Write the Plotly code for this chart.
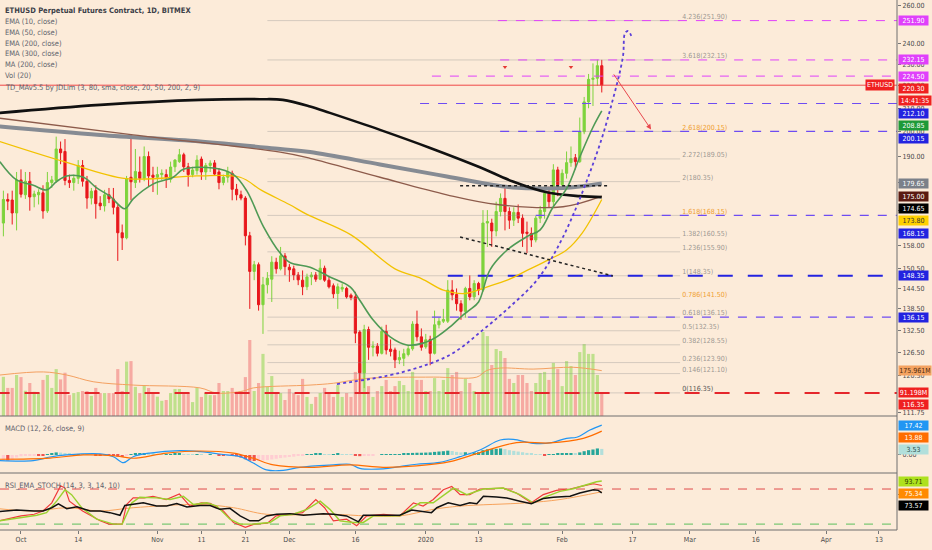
import numpy as np
import pandas as pd
import plotly.graph_objects as go

# ---------------- data ----------------
dates = pd.date_range("2019-09-27", "2020-02-10", freq="D")

opens = [165.5, 173.8, 173.6, 169.0, 181.0, 175.5, 180.5, 174.8, 175.5, 176.2,
         169.7, 180.0, 180.8, 193.0, 192.0, 180.8, 180.0, 181.6, 186.5, 180.5,
         174.3, 177.0, 172.5, 171.5, 175.5, 174.0, 171.0, 162.2, 160.5, 182.0,
         180.0, 184.0, 181.6, 190.0, 182.8, 182.0, 183.0, 183.0, 181.2, 186.0,
         188.0, 190.7, 186.0, 183.0, 184.5, 189.0, 184.0, 186.5, 187.5, 184.0,
         180.0, 182.0, 183.5, 177.5, 175.5, 174.3, 161.2, 149.7, 151.8, 139.7,
         145.6, 147.3, 152.6, 150.5, 154.6, 151.0, 150.5, 148.6, 147.0, 145.0,
         148.0, 148.6, 147.3, 150.7, 147.0, 145.3, 143.0, 144.3, 144.5, 142.5,
         142.0, 132.0, 121.3, 132.7, 127.9, 128.2, 126.3, 132.2, 127.4, 127.2,
         124.6, 125.0, 126.0, 127.5, 134.2, 130.7, 128.0, 130.0, 126.3, 134.0,
         135.0, 135.0, 144.0, 142.7, 140.0, 137.8, 144.5, 142.0, 146.0, 144.0,
         165.5, 165.5, 162.8, 169.5, 174.2, 169.5, 166.5, 169.2, 167.2, 162.4,
         162.0, 159.8, 167.2, 169.5, 176.0, 173.0, 184.8, 179.2, 183.5, 187.6,
         189.5, 188.0, 200.0, 212.8, 223.0, 223.5, 229.4]
highs = [177.0, 176.0, 177.0, 184.0, 185.0, 184.0, 184.0, 177.0, 177.5, 179.0,
         184.0, 182.5, 198.0, 196.0, 197.0, 183.0, 183.0, 188.6, 188.6, 182.5,
         178.0, 179.0, 175.0, 177.3, 178.0, 178.0, 172.0, 165.0, 182.5, 199.0,
         193.0, 190.0, 194.0, 192.0, 186.0, 186.0, 185.0, 185.0, 188.0, 189.0,
         193.0, 191.5, 187.5, 186.0, 190.5, 190.0, 187.5, 188.5, 188.6, 185.5,
         183.0, 186.0, 184.5, 179.5, 177.0, 175.0, 162.5, 153.0, 152.5, 148.0,
         149.5, 154.5, 154.0, 157.5, 155.5, 152.0, 151.5, 149.5, 150.0, 149.0,
         149.5, 149.5, 153.5, 151.5, 148.0, 146.0, 146.0, 146.0, 145.0, 143.0,
         143.5, 132.5, 134.0, 133.5, 129.5, 129.0, 133.5, 134.0, 130.0, 127.8,
         127.0, 127.5, 128.5, 135.0, 138.0, 133.0, 131.5, 131.0, 138.0, 136.0,
         138.5, 147.0, 147.0, 144.5, 141.0, 145.0, 148.5, 147.0, 146.5, 170.0,
         170.0, 167.0, 173.0, 176.0, 178.5, 171.0, 171.0, 172.0, 168.5, 166.0,
         164.0, 168.0, 171.5, 177.0, 178.5, 187.0, 186.0, 185.0, 192.0, 194.0,
         191.0, 206.0, 215.0, 225.5, 230.5, 232.3, 232.2]
lows = [161.0, 170.0, 165.0, 163.0, 174.5, 174.0, 169.8, 171.0, 172.0, 167.0,
        169.0, 178.0, 180.0, 187.0, 179.0, 178.0, 177.0, 179.5, 178.5, 170.5,
        172.0, 167.0, 170.0, 169.5, 172.5, 168.5, 153.0, 156.5, 160.0, 173.5,
        178.0, 180.0, 180.5, 178.5, 176.5, 175.5, 181.0, 178.0, 180.0, 184.0,
        187.5, 184.0, 178.5, 182.0, 183.0, 181.0, 181.0, 184.0, 182.5, 177.5,
        179.0, 180.0, 173.5, 173.5, 173.5, 158.0, 138.5, 147.0, 138.0, 131.5,
        143.0, 140.5, 149.0, 150.0, 148.5, 146.5, 147.0, 145.5, 142.5, 144.0,
        145.5, 146.5, 147.0, 146.5, 144.5, 141.6, 138.5, 143.5, 141.5, 141.0,
        129.0, 116.35, 117.5, 124.6, 125.5, 125.5, 126.0, 126.0, 125.5, 122.5,
        123.5, 123.0, 125.5, 127.0, 129.5, 127.0, 127.5, 123.2, 126.0, 133.0,
        134.5, 134.5, 141.0, 138.0, 135.4, 136.0, 141.0, 141.0, 142.5, 143.5,
        157.5, 157.5, 161.0, 167.8, 163.0, 163.5, 164.5, 165.5, 157.5, 155.5,
        157.5, 159.0, 165.5, 167.0, 171.0, 171.5, 175.0, 178.5, 181.5, 186.0,
        185.0, 187.5, 199.0, 210.0, 211.0, 220.0, 217.0]
closes = [173.8, 173.2, 169.0, 181.0, 175.7, 180.5, 174.7, 175.8, 176.4, 169.7,
          180.0, 181.0, 193.0, 191.5, 180.8, 180.0, 181.6, 186.5, 180.5, 174.3,
          176.8, 172.3, 171.5, 175.5, 174.0, 171.0, 162.2, 160.5, 181.5, 180.3,
          184.2, 181.6, 190.0, 182.5, 182.0, 183.0, 183.5, 181.8, 185.9, 188.6,
          190.7, 186.0, 183.0, 184.8, 188.6, 184.0, 186.5, 187.4, 183.2, 180.0,
          182.0, 184.0, 177.5, 175.5, 174.3, 161.2, 149.7, 151.8, 139.7, 145.6,
          147.6, 152.6, 150.5, 154.6, 151.2, 150.2, 148.6, 147.1, 145.0, 148.0,
          148.6, 147.3, 150.7, 147.0, 145.0, 142.9, 145.0, 144.8, 142.0, 141.8,
          131.7, 121.3, 132.7, 127.9, 128.2, 126.3, 132.2, 127.2, 126.8, 124.6,
          125.2, 126.2, 127.5, 134.2, 130.7, 127.9, 129.9, 126.3, 134.0, 135.0,
          135.5, 144.0, 142.6, 140.0, 137.8, 144.5, 142.0, 146.0, 144.0, 165.5,
          166.0, 162.8, 169.5, 174.2, 169.5, 166.5, 169.2, 167.2, 162.0, 162.0,
          159.8, 167.2, 170.0, 176.0, 173.0, 184.8, 179.2, 183.5, 187.6, 189.2,
          188.0, 200.0, 212.8, 223.0, 223.5, 229.4, 220.3]
volume_m = [152, 109, 109, 159, 151, 98, 128, 94, 89, 140,
            159, 109, 182, 142, 168, 81, 89, 93, 97, 97,
            78, 109, 89, 89, 89, 89, 182, 97, 211, 213,
            113, 89, 120, 109, 89, 75, 59, 62, 89, 105,
            105, 89, 89, 54, 109, 74, 89, 81, 81, 128,
            97, 97, 109, 89, 97, 151, 295, 97, 128, 241,
            113, 155, 89, 89, 62, 105, 89, 81, 144, 74,
            47, 74, 89, 109, 89, 74, 120, 74, 89, 74,
            171, 202, 213, 116, 74, 97, 116, 140, 97, 116,
            136, 120, 97, 171, 140, 140, 97, 97, 147, 97,
            140, 186, 159, 171, 97, 144, 128, 97, 85, 326,
            310, 198, 260, 252, 225, 144, 128, 159, 159, 128,
            97, 128, 167, 171, 140, 206, 182, 116, 213, 194,
            159, 248, 279, 241, 241, 159, 91.198]
macd_hist = [-3.0, -3.2, -2.8, -1.5, -0.8, -0.5, -0.3, -0.2, -0.5, -0.6,
             0.2, 0.8, 1.5, 1.4, 1.0, 0.6, 0.4, 0.4, 0.3, 0.2,
             0.0, -0.2, -0.3, -0.3, -0.4, -0.6, -1.0, -1.2, -0.6, 0.2,
             0.6, 0.8, 1.0, 0.9, 0.6, 0.4, 0.2, 0.2, 0.4, 0.6,
             0.7, 0.5, 0.3, 0.2, 0.3, 0.1, 0.0, 0.1, 0.0, -0.3,
             -0.4, -0.3, -0.5, -0.8, -1.5, -2.5, -3.3, -3.5, -3.5, -3.2,
             -3.0, -2.6, -2.2, -1.8, -1.5, -1.2, -1.0, -0.6, -0.3, 0.3,
             0.5, 0.6, 0.6, 0.4, 0.3, 0.4, 0.6, 0.5, 0.3, 0.1,
             -0.3, -0.7, -0.6, -0.4, -0.2, 0.0, 0.1, 0.1, 0.2, 0.4,
             0.5, 0.7, 0.9, 1.2, 1.3, 1.3, 1.4, 1.5, 1.8, 2.0,
             2.2, 2.5, 2.3, 1.8, 1.5, 1.6, 1.4, 1.5, 1.6, 2.8,
             3.3, 3.4, 3.6, 3.8, 3.4, 2.8, 2.4, 2.0, 1.6, 1.2,
             0.8, 0.4, 0.2, -0.2, 0.2, 0.5, 0.6, 0.7, 0.8, 1.0,
             0.9, 1.5, 2.2, 2.8, 3.2, 3.8, 3.53]

# overlay lines as (day offset from 2019-10-01, value)
ema10_days = [-4.8, -1, 2.8, 5.8, 8.1, 10.4, 14.2, 17.2, 20.2, 23.6, 25.5, 30.1, 34.6, 36.9,
              43.7, 48.3, 51.3, 55.1, 58.9, 61.1, 65.7, 70.2, 74.8, 77, 80, 83.9, 87.7,
              91.4, 94.5, 97.5, 100.5, 102, 104, 106.6, 110.5, 115, 118, 120.9, 124.1,
              127, 130, 132]
ema10_vals = [188, 181, 179, 177.3, 180.4, 182.5, 182, 178, 175, 170.5, 174, 179.5, 182, 185,
              185.5, 183, 177, 164.3, 155.5, 152.5, 151, 148, 145, 141, 135.4, 130.7, 128.5,
              129, 130.7, 133.4, 136.8, 138.2, 140.5, 150.2, 156.5, 160.9, 163.2, 171, 178,
              189.8, 201.9, 208.85]
ema50_days = [-4.8, 9.8, 23.9, 40, 49.8, 54.8, 61, 65, 75, 85, 91, 96, 101, 106, 110.5,
              115, 120, 124, 127.5, 132]
ema50_vals = [196, 188, 181.5, 182.5, 182, 177, 172, 168.5, 161.5, 150.5, 147.5, 144, 143,
              145, 147, 150, 153.4, 156.5, 162, 173.8]
ema200_days = [-4.8, 18, 40.7, 54.3, 59.5, 65.7, 70.2, 81.6, 93, 104.3, 111.8, 119.5, 127, 132]
ema200_vals = [208, 211.5, 213.7, 214, 213.7, 210.8, 208, 200.8, 193.4, 185.8, 180.4, 176.4,
               175, 174.65]
ema300_days = [-4.8, 18, 40.7, 58.9, 65.7, 81.6, 96.8, 111.8, 123.2, 132]
ema300_vals = [202.2, 198.7, 196, 193, 191.8, 186.9, 182.3, 178.2, 178, 179.65]
ma200_days = [-4.8, 25.5, 58.9, 65.7, 81.6, 96.8, 108.2, 123.2, 132]
ma200_vals = [205.7, 198.7, 191.7, 189.3, 182, 175.5, 172, 171.2, 175.0]
volma_days = [-4.8, 5.1, 10.4, 16.4, 25.5, 40.7, 44.5, 50.5, 52.8, 65.7, 71, 78.6, 93.7,
              103.6, 105.8, 108.9, 116.4, 125.5, 132]
volma_vals = [159, 171, 159, 133, 120, 109, 89, 97, 109, 120, 127, 146, 151, 151, 176, 186,
              182, 189, 175.961]

macd_days = [-4.8, 2.8, 6.6, 10.4, 18, 21, 23.3, 25.5, 29.3, 36.1, 40.7, 46.7, 49.8, 52.8,
             55.8, 59.6, 63.4, 71, 74.8, 77, 82.3, 86.1, 89.9, 95.2, 99.8, 104.3, 108.9,
             111.9, 116.4, 120.2, 124, 126.3, 129.3, 132]
macd_vals = [-3.3, -3.3, -1.2, 0, 0.6, -1, -4.5, -1, 1.1, 2.5, 1.9, 0, -1, -4.7,
             -8.7, -9, -7.2, -5.8, -5.4, -7.8, -8.1, -6.8, -5.4, -4.3, -1, 2.9, 8.7,
             9.1, 6.8, 7, 9.7, 10.3, 14.5, 17.42]
signal_days = [-4.8, 6.6, 14.2, 21.7, 25.5, 33.1, 40.7, 48.3, 52.8, 57.4, 65.7, 74.8, 82.3,
               89.9, 97.5, 104.3, 112.6, 120.2, 127.8, 132]
signal_vals = [-2.5, -1.8, 0, -0.6, -1.9, 1.1, 2.3, 1.1, -1.9, -5.8, -7.2, -5.8, -7.2,
               -6.4, -3.9, 1.4, 7.2, 7, 9.7, 13.88]

k_days = [-5, 0, 3, 5, 7, 9, 10, 11, 14, 18, 20, 23, 24, 25.5, 28, 30, 33, 36, 38.4, 41, 43,
          46, 48.3, 51, 53, 56, 58, 61, 64, 67, 69, 71, 74, 76.3, 78.6, 82.4, 86.1, 89.2,
          91.4, 93.7, 96, 97.9, 99.8, 102, 104.3, 109.6, 112.6, 116, 118.7, 121.7, 124.8,
          127.8, 130.1, 132]
k_vals = [25.6, 34, 36.8, 42.4, 56.4, 85.5, 81.6, 59.2, 42.4, 25.6, 20, 20, 53.6, 64.8, 64.8,
          67.6, 62, 71.5, 50.8, 56.4, 55.3, 42.4, 22.8, 14.4, 20, 21.7, 34, 36.8, 39.6, 62,
          48, 25.6, 28.4, 17.2, 34, 36.8, 34, 56.4, 50.8, 62, 78.8, 84.4, 70.4, 70.4, 80,
          81.6, 73.2, 56.4, 70.4, 77.7, 80, 85.5, 89, 86]
d_days = [-5, 0, 3.6, 5.8, 8.1, 10, 11.5, 13.8, 17.2, 21, 23, 25.2, 27, 30.8, 33.9, 36.9,
          39.2, 42.2, 44.5, 47.5, 49.8, 52.8, 56.6, 58.9, 61.9, 65, 68, 70.2, 72.5, 75.5,
          77.8, 80.1, 86.1, 90.7, 93.7, 98.3, 101.3, 105.1, 109.6, 113.4, 116.4, 119.5,
          122.5, 125.5, 128.6, 130.8, 132]
d_vals = [25.6, 31.2, 35.1, 39.6, 59.2, 78.8, 70.4, 48, 28.4, 20, 20, 56.4, 65.9, 64.8, 62,
          67.6, 53.6, 56.4, 50.8, 28.4, 20, 20, 22.8, 34, 36.8, 45.2, 59.2, 45.2, 25.6, 22.8,
          22.8, 34, 34, 56.4, 56.4, 81.6, 70.4, 80, 81.6, 70.4, 56.4, 67.6, 76, 80.5, 88,
          92.5, 93.71]
rsi_days = [-5, -1, 3, 5, 7, 8.5, 10.4, 12.7, 15.7, 18, 20.2, 22.5, 23.6, 27.8, 30.8, 33.1,
            35.4, 37.7, 40.7, 43, 45.2, 47.5, 49.8, 52, 54, 55.8, 58.1, 61.1, 64.2, 66.4,
            68.7, 71, 74, 76.7, 77.8, 82.4, 86.1, 88.8, 91.4, 93.3, 94.5, 97.1, 99.8, 102,
            103.6, 105.1, 108.1, 110.4, 113.4, 116, 118.7, 121, 124.8, 127, 130.1, 131.2, 132]
rsi_vals = [41.3, 44.1, 42.4, 42.4, 48, 54.7, 46.3, 49.6, 42.4, 42.4, 39.6, 35.1, 51.9, 56.4,
            50.8, 50.8, 55.3, 49.1, 51.9, 51.9, 45.2, 46.9, 34, 25.6, 25.6, 34, 36.8, 37.9,
            35.1, 36.8, 37.9, 36.8, 34, 23.9, 35.1, 35.1, 35.1, 44.1, 41.3, 39.6, 48, 56.4,
            52, 56.4, 54.7, 67.6, 66.5, 64.8, 59.2, 54.7, 63.7, 65.9, 67.6, 73.2, 78.8, 77.7,
            73.57]
rsima_days = [-5, 3, 10.4, 18, 25.5, 40.7, 48.3, 55.8, 71, 78.6, 86.1, 93.7, 99.8, 114.9,
              122.5, 132]
rsima_vals = [46.3, 42.4, 48, 42.4, 48, 53.6, 48, 36.8, 36.8, 34, 34, 45.2, 50.8, 56.4, 62,
              75.34]

# fib extension (0 = 116.35, 1 = 148.35)
fib_ratios = ["4.236", "3.618", "2.618", "2.272", "2", "1.618", "1.382", "1.236", "1",
              "0.786", "0.618", "0.5", "0.382", "0.236", "0.146", "0"]
fib_prices = [251.90, 232.15, 200.15, 189.05, 180.35, 168.15, 160.55, 155.90, 148.35,
              141.50, 136.15, 132.35, 128.55, 123.90, 121.10, 116.35]
fib_start_day, fib_end_day, fib_label_day = 56, 149.8, 150.3

# horizontal drawn levels: (price, start day)
level_prices = [251.90, 232.15, 224.50, 212.10, 200.15, 168.15, 148.35, 136.15, 116.35]
level_start = [108.4, 108.9, 93.4, 90.7, 108.9, 117.0, 97.0, 93.4, -6]

# hand drawings
curve_days = [71.8, 86.1, 97.5, 105, 111.1, 117.3, 123.2, 130.9, 134.5, 136.8, 137.3, 138.0, 138.9]
curve_vals = [118.5, 121.3, 125.9, 132.6, 139.1, 147.1, 160.8, 191.4, 213.7, 233.6, 245.5, 246.5, 243.0]
hline_days = [99.8, 133.5]
hline_vals = [178.8, 178.8]
trend_days = [99.8, 134.5]
trend_vals = [160.8, 148.3]
arrow_from = (134.5, 226.0)
arrow_to = (143.2, 201.0)
td_mark_days = [110, 125]
td_mark_vals = [228.8, 228.8]

last_price = 220.30
countdown = "14:41:35"
vol_last_text, volma_last_text = "91.198M", "175.961M"

x_ticks = ["2019-10-01", "2019-10-14", "2019-11-01", "2019-11-11", "2019-11-21", "2019-12-01",
           "2019-12-16", "2020-01-01", "2020-01-13", "2020-02-01", "2020-02-17", "2020-03-01",
           "2020-03-16", "2020-04-01", "2020-04-13"]
x_tick_text = ["Oct", "14", "Nov", "11", "21", "Dec", "16", "2020", "13", "Feb", "17", "Mar",
               "16", "Apr", "13"]
price_ticks = [260, 240, 230, 220, 210, 200, 190, 180, 170, 158, 150.5, 144.5, 138.5, 132.5,
               126.5, 120.5, 111.75]

legend_lines = ["ETHUSD Perpetual Futures Contract, 1D, BITMEX", "EMA (10, close)",
                "EMA (50, close)", "EMA (200, close)", "EMA (300, close)", "MA (200, close)",
                "Vol (20)", "TD_MAv5.5 by JDLim (3, 80, sma, close, 20, 50, 200, 2, 9)"]

n = len(dates)
for nm, arr in [("opens", opens), ("highs", highs), ("lows", lows), ("closes", closes),
                ("volume_m", volume_m), ("macd_hist", macd_hist)]:
    if len(arr) != n:
        raise SystemExit(f"{nm} has {len(arr)} values, expected {n}")

# ---------------- geometry / style ----------------
W, H = 932, 550
MR, MB = 35, 20
PH = H - MB               # plot-area height in px
P_PRICE, P_MACD, P_RSI = (0, 416), (416, 473), (473, 530)
BG = "#fcebd9"
FONT = "Liberation Sans Narrow, DejaVu Sans Condensed, Arial Narrow, sans-serif"
G_UP, R_DN = "#7ed33c", "#e8171c"
MAG, PURP, BLUE, RED = "#e040fb", "#6e4cf2", "#2323e0", "#ef2020"

PRICE_MIN, PRICE_MAX = 110.9, 262.9
VOL_MAX = 1614.0
MACD_RANGE = (-10.5, 22.7)
RSI_RANGE = (9.9, 107.4)

BASE = pd.Timestamp("2019-10-01")
def day(d):
    return list(BASE + pd.to_timedelta(np.asarray(d, dtype=float), unit="D"))
X0, X1 = day([-4.77, 199.1])

def dom(p):
    return [(PH - p[1]) / PH, (PH - p[0]) / PH]

def price_px(p):
    lo, hi = np.log10(PRICE_MIN), np.log10(PRICE_MAX)
    return P_PRICE[0] + (hi - np.log10(p)) / (hi - lo) * (P_PRICE[1] - P_PRICE[0])

def lin_px(v, rng, pane):
    return pane[0] + (rng[1] - v) / (rng[1] - rng[0]) * (pane[1] - pane[0])

fig = go.Figure()
DAY_MS = 86400000

# volume (base axis y, drawn underneath)
vcol = ["#bfe08c" if c >= o else "#f6aaa2" for o, c in zip(opens, closes)]
fig.add_trace(go.Bar(x=dates, y=volume_m, marker=dict(color=vcol, line=dict(width=0)),
                     width=0.72 * DAY_MS, xaxis="x", yaxis="y"))
fig.add_trace(go.Scatter(x=day(volma_days), y=volma_vals, mode="lines",
                         line=dict(color="#f4a060", width=1, shape="spline"), yaxis="y"))

# fib grey lines + labels (price axis y2)
for p in fib_prices:
    fig.add_trace(go.Scatter(x=day([fib_start_day, fib_end_day]), y=[p, p], mode="lines",
                             line=dict(color="rgba(140,140,140,0.35)", width=1), yaxis="y2"))
fib_text_col = ["#f0a030" if r in ("2.618", "1.618", "0.786") else
                ("#555555" if r == "0" else "rgba(120,120,120,0.75)") for r in fib_ratios]
fig.add_trace(go.Scatter(x=day([fib_label_day] * len(fib_prices)), y=fib_prices, mode="text",
                         text=[f"{r}({p:.2f})" for r, p in zip(fib_ratios, fib_prices)],
                         textposition="top right",
                         textfont=dict(size=7, color=fib_text_col, family=FONT), yaxis="y2"))

# coloured horizontal levels
lvl_style = {251.90: (MAG, "dash", 1), 232.15: (MAG, "dash", 1), 224.50: (MAG, "dash", 1),
             212.10: (PURP, "dash", 1.2), 200.15: (PURP, "dash", 1.2), 168.15: (PURP, "dash", 1.2),
             148.35: (BLUE, "longdash", 2), 136.15: (PURP, "dash", 1.2),
             116.35: ("#e5262b", "longdash", 2)}
for p, s in zip(level_prices, level_start):
    c, dsh, w = lvl_style[p]
    fig.add_trace(go.Scatter(x=[day([s])[0], X1], y=[p, p], mode="lines",
                             line=dict(color=c, width=w, dash=dsh), yaxis="y2"))
fig.add_trace(go.Scatter(x=[X0, X1], y=[last_price, last_price], mode="lines",
                         line=dict(color="#f04848", width=1), yaxis="y2"))

# moving averages
fig.add_trace(go.Scatter(x=day(ema300_days), y=ema300_vals, mode="lines",
                         line=dict(color="#868b93", width=4, shape="spline"), yaxis="y2"))
fig.add_trace(go.Scatter(x=day(ma200_days), y=ma200_vals, mode="lines",
                         line=dict(color="#8d5b4b", width=1.3, shape="spline"), yaxis="y2"))
fig.add_trace(go.Scatter(x=day(ema200_days), y=ema200_vals, mode="lines",
                         line=dict(color="#111111", width=2.6, shape="spline"), yaxis="y2"))
fig.add_trace(go.Scatter(x=day(ema50_days), y=ema50_vals, mode="lines",
                         line=dict(color="#f2c200", width=1.3, shape="spline"), yaxis="y2"))

# candles
fig.add_trace(go.Candlestick(x=dates, open=opens, high=highs, low=lows, close=closes,
                             increasing=dict(line=dict(color=G_UP, width=1), fillcolor=G_UP),
                             decreasing=dict(line=dict(color=R_DN, width=1), fillcolor=R_DN),
                             whiskerwidth=0, yaxis="y2"))
fig.add_trace(go.Scatter(x=day(ema10_days), y=ema10_vals, mode="lines",
                         line=dict(color="#4f9a55", width=1.6, shape="spline"), yaxis="y2"))

# drawings
fig.add_trace(go.Scatter(x=day(hline_days), y=hline_vals, mode="lines",
                         line=dict(color="#222222", width=1.5, dash="dot"), yaxis="y2"))
fig.add_trace(go.Scatter(x=day(trend_days), y=trend_vals, mode="lines",
                         line=dict(color="#222222", width=1.5, dash="dot"), yaxis="y2"))
fig.add_trace(go.Scatter(x=day(curve_days), y=curve_vals, mode="lines",
                         line=dict(color="#5a3ed8", width=1.8, dash="dot", shape="spline"),
                         yaxis="y2"))
fig.add_trace(go.Scatter(x=day(td_mark_days), y=td_mark_vals, mode="markers",
                         marker=dict(symbol="triangle-down", size=4, color="#e53935"),
                         yaxis="y2"))

# MACD
hcol = []
for i, h in enumerate(macd_hist):
    prev = macd_hist[i - 1] if i else h
    if h >= 0:
        hcol.append("#26a69a" if h >= prev else "#b2dfdb")
    else:
        hcol.append("#ef5350" if h < prev else "#ffcdd2")
fig.add_trace(go.Bar(x=dates, y=macd_hist, marker=dict(color=hcol, line=dict(width=0)),
                     width=0.72 * DAY_MS, yaxis="y3"))
fig.add_trace(go.Scatter(x=day(macd_days), y=macd_vals, mode="lines",
                         line=dict(color="#2196f3", width=1.2, shape="spline"), yaxis="y3"))
fig.add_trace(go.Scatter(x=day(signal_days), y=signal_vals, mode="lines",
                         line=dict(color="#ff6d00", width=1.2, shape="spline"), yaxis="y3"))

# RSI / stoch
for lvl, c in [(80, "#e04a4a"), (20, "#5cbf5c")]:
    fig.add_trace(go.Scatter(x=[X0, X1], y=[lvl, lvl], mode="lines",
                             line=dict(color=c, width=1, dash="dash"), yaxis="y4"))
fig.add_trace(go.Scatter(x=day(rsima_days), y=rsima_vals, mode="lines",
                         line=dict(color="#f7a35c", width=1, shape="spline"), yaxis="y4"))
fig.add_trace(go.Scatter(x=day(k_days), y=k_vals, mode="lines",
                         line=dict(color="#f03a3a", width=1.2), yaxis="y4"))
fig.add_trace(go.Scatter(x=day(d_days), y=d_vals, mode="lines",
                         line=dict(color="#9bd12e", width=1.4), yaxis="y4"))
fig.add_trace(go.Scatter(x=day(rsi_days), y=rsi_vals, mode="lines",
                         line=dict(color="#111111", width=1.5), yaxis="y4"))

# ---------------- annotations ----------------
ann = []
def txt(x_px, y_px, s, size=7, color="#5d606b", bold=False):
    ann.append(dict(xref="paper", yref="paper", x=x_px / (W - MR), y=(PH - y_px) / PH,
                    xanchor="left", yanchor="middle", showarrow=False,
                    text=f"<b>{s}</b>" if bold else s,
                    font=dict(size=size, color=color, family=FONT)))

leg_y = [11, 22, 33, 43.5, 54, 65, 76, 87.7]
for i, (s, yy) in enumerate(zip(legend_lines, leg_y)):
    txt(3, yy, s, size=7.5, color="#3c3f48" if i == 0 else "#60636c", bold=(i == 0))
txt(3, 428, "MACD (12, 26, close, 9)", size=7.5)
txt(3, 485, "RSI_EMA_STOCH (14, 3, 3, 14, 10)", size=7.5)

# right-side value labels (stacked downward when they collide)
price_labels = [
    (price_px(251.90), "251.90", MAG, "white"), (price_px(232.15), "232.15", MAG, "white"),
    (price_px(224.50), "224.50", MAG, "white"), (price_px(last_price), f"{last_price:.2f}", RED, "white"),
    (price_px(last_price) + 0.01, countdown, RED, "white"),
    (price_px(212.10), "212.10", BLUE, "white"), (price_px(ema10_vals[-1]), f"{ema10_vals[-1]:.2f}", "#1e9a38", "white"),
    (price_px(200.15), "200.15", BLUE, "white"), (price_px(ema300_vals[-1]), f"{ema300_vals[-1]:.2f}", "#7b8089", "white"),
    (price_px(ma200_vals[-1]), f"{ma200_vals[-1]:.2f}", "#5a1a10", "white"),
    (price_px(ema200_vals[-1]), f"{ema200_vals[-1]:.2f}", "#000000", "white"),
    (price_px(ema50_vals[-1]), f"{ema50_vals[-1]:.2f}", "#ffd000", "#333333"),
    (price_px(168.15), "168.15", BLUE, "white"), (price_px(148.35), "148.35", BLUE, "white"),
    (price_px(136.15), "136.15", BLUE, "white"),
    (lin_px(volma_vals[-1], (0, VOL_MAX), P_PRICE), volma_last_text, "#f4a261", "#4a2a10"),
    (lin_px(volume_m[-1], (0, VOL_MAX), P_PRICE), vol_last_text, RED, "white"),
    (price_px(116.35), "116.35", RED, "white"),
]
macd_labels = [
    (lin_px(macd_vals[-1], MACD_RANGE, P_MACD), f"{macd_vals[-1]:.2f}", "#2196f3", "white"),
    (lin_px(signal_vals[-1], MACD_RANGE, P_MACD), f"{signal_vals[-1]:.2f}", "#ff6d00", "white"),
    (lin_px(macd_hist[-1], MACD_RANGE, P_MACD), f"{macd_hist[-1]:.2f}", "#b2dfdb", "#2d4d4a"),
]
rsi_labels = [
    (lin_px(d_vals[-1], RSI_RANGE, P_RSI), f"{d_vals[-1]:.2f}", "#aee11e", "#2a3a00"),
    (lin_px(rsima_vals[-1], RSI_RANGE, P_RSI), f"{rsima_vals[-1]:.2f}", "#ff8a00", "white"),
    (lin_px(rsi_vals[-1], RSI_RANGE, P_RSI), f"{rsi_vals[-1]:.2f}", "#000000", "white"),
]

def place(labels, h=12.4):
    out, last = [], -1e9
    for lab in sorted(labels, key=lambda l: l[0]):
        y = max(lab[0], last + h)
        out.append((y,) + tuple(lab[1:]))
        last = y
    return out

for y, s, bg, fg in place(price_labels) + place(macd_labels) + place(rsi_labels):
    ann.append(dict(xref="paper", yref="paper", x=1, y=(PH - y) / PH, xanchor="left",
                    yanchor="middle", xshift=1, showarrow=False, text=s, bgcolor=bg,
                    borderpad=0.5, width=28 if len(s) < 8 else 31,
                    font=dict(size=7, color=fg, family=FONT)))
ann.append(dict(xref="paper", yref="paper", x=1, y=(PH - price_px(last_price)) / PH,
                xanchor="right", yanchor="middle", xshift=-2, showarrow=False, text="ETHUSD",
                bgcolor=RED, borderpad=1, font=dict(size=7, color="white", family=FONT)))

# red arrow drawing
ann.append(dict(xref="x", yref="y2", x=day([arrow_to[0]])[0], y=np.log10(arrow_to[1]),
                axref="x", ayref="y2", ax=day([arrow_from[0]])[0], ay=np.log10(arrow_from[1]),
                showarrow=True, arrowhead=2, arrowsize=1, arrowwidth=1, arrowcolor="#e8474d",
                text=""))

shapes = []
for yy in (P_MACD[0], P_RSI[0], P_RSI[1]):
    shapes.append(dict(type="line", xref="paper", yref="paper", x0=0, x1=1,
                       y0=(PH - yy) / PH, y1=(PH - yy) / PH, line=dict(color="#6e6e6e", width=1)))
shapes.append(dict(type="line", xref="paper", yref="paper", x0=1, x1=1, y0=0, y1=1,
                   line=dict(color="#6e6e6e", width=1)))

axis_font = dict(size=7, color="#4a4a4a", family=FONT)
fig.update_layout(
    width=W, height=H, margin=dict(l=0, r=MR, t=0, b=MB),
    paper_bgcolor=BG, plot_bgcolor=BG, showlegend=False, hovermode=False,
    annotations=ann, shapes=shapes,
    xaxis=dict(domain=[0, 1], range=[X0, X1], anchor="y4", type="date",
               tickvals=x_ticks, ticktext=x_tick_text, tickfont=axis_font,
               ticks="outside", ticklen=3, tickcolor="#777", showgrid=False,
               zeroline=False, showline=False, rangeslider=dict(visible=False)),
    yaxis=dict(domain=dom(P_PRICE), range=[0, VOL_MAX], visible=False, fixedrange=True),
    yaxis2=dict(overlaying="y", side="right", type="log", anchor="x",
                range=[np.log10(PRICE_MIN), np.log10(PRICE_MAX)],
                tickvals=price_ticks, ticktext=[f"{v:.2f}" for v in price_ticks],
                tickfont=axis_font, ticks="outside", ticklen=3, tickcolor="#777",
                showgrid=False, zeroline=False),
    yaxis3=dict(domain=dom(P_MACD), range=list(MACD_RANGE), side="right", anchor="x",
                tickvals=[0], ticktext=["0.00"], tickfont=axis_font, ticks="outside",
                ticklen=3, tickcolor="#777", showgrid=False, zeroline=False),
    yaxis4=dict(domain=dom(P_RSI), range=list(RSI_RANGE), side="right", anchor="x",
                tickvals=[70], ticktext=["70.00"], tickfont=axis_font, ticks="outside",
                ticklen=3, tickcolor="#777", showgrid=False, zeroline=False),
)

fig.write_html("out.html", config={"displayModeBar": False},
               post_script="document.body.style.margin='0';document.body.style.overflow='hidden';")
